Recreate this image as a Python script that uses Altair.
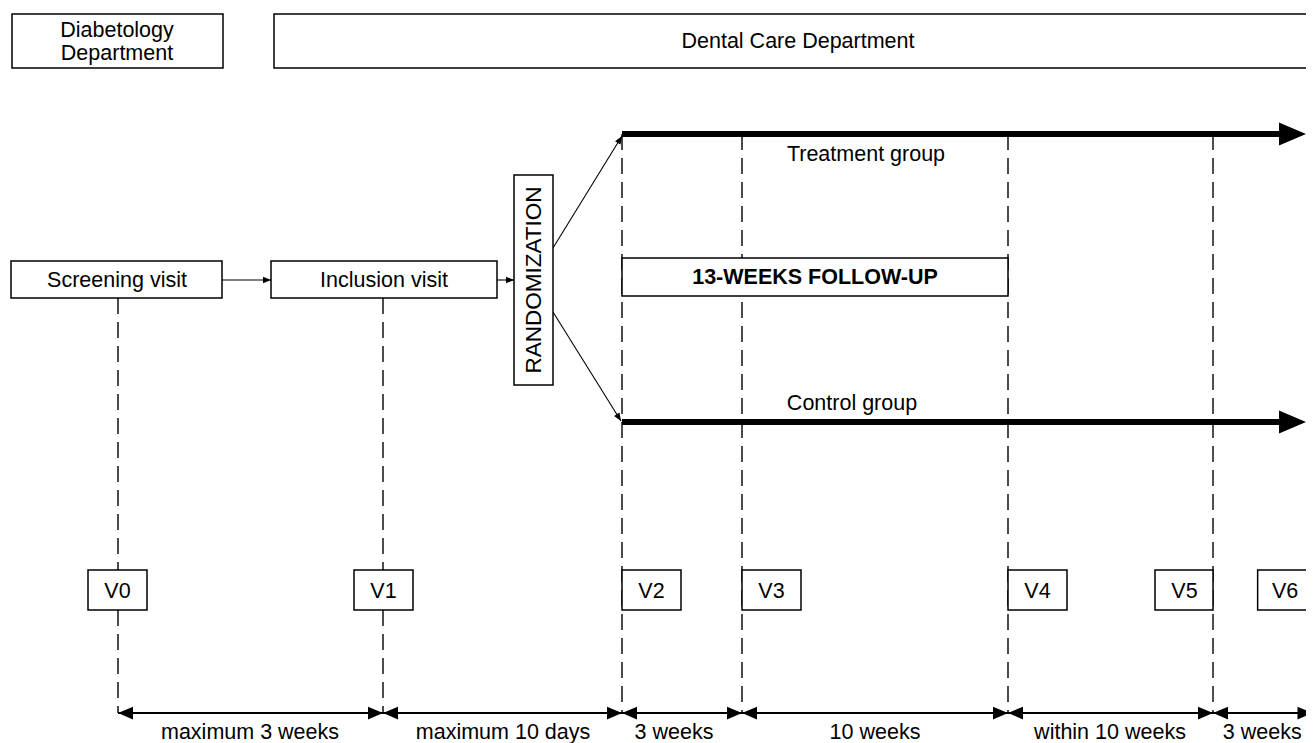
import math
import altair as alt
import pandas as pd

FONT = "Liberation Sans"

# ---------------- content ----------------
visits = ["V0", "V1", "V2", "V3", "V4", "V5", "V6"]
visit_x = [118, 383, 622, 742, 1008, 1214, 1321]          # timeline position of each visit
visit_line_top = [298, 298, 134, 134, 134, 134, 134]
visit_box_left = [88, 354, 622, 742, 1008, 1155, 1262]

interval_labels = ["maximum 3 weeks", "maximum 10 days", "3 weeks",
                   "10 weeks", "within 10 weeks", "3 weeks"]
interval_label_x = [250, 503, 674, 875, 1110, 1267]

box_names = ["Diabetology", "Dental", "Screening", "Inclusion", "Randomization", "FollowUp"]
box_x1 = [12, 274, 11, 271, 514, 622]
box_x2 = [223, 1340, 222, 497, 553, 1008]
box_y1 = [14, 14, 261, 261, 175, 258]
box_y2 = [68, 68, 298, 298, 385, 296]

text_labels = ["Diabetology", "Department", "Dental Care Department",
               "Screening visit", "Inclusion visit", "Treatment group", "Control group"]
text_x = [117, 117, 798, 117, 384, 866, 852]
text_y = [37, 60, 48, 287, 287, 161, 410]

group_names = ["Treatment group", "Control group"]
group_y = [134, 422]
group_x_start = 622
group_x_tip = 1314

# thin arrows: (x1, y1) -> (x2, y2), head at (x2, y2)
thin_x1 = [222, 497, 553, 553]
thin_y1 = [280, 280, 248, 312]
thin_x2 = [271, 514, 622, 621]
thin_y2 = [280, 280, 136, 421]

timeline_y = 713
box_h_top, box_h_bottom = 570, 610
box_w = 59

# ---------------- scales ----------------
W, H = 1298, 735
# exact mapping on most of the width, gentle squeeze of the last strip so the
# right edge of the figure stays inside the page
xs = alt.Scale(domain=[8, 1200, 1314], range=[0, 1192, 1298], nice=False, zero=False)
ys = alt.Scale(domain=[8, 743], nice=False, zero=False, reverse=True)


def X(f):
    return alt.X(f, type="quantitative", scale=xs, axis=None)


def Y(f):
    return alt.Y(f, type="quantitative", scale=ys, axis=None)


# ---------------- tables ----------------
dash_df = pd.DataFrame({"x": visit_x, "y1": visit_line_top, "y2": [timeline_y] * len(visits)})

boxes_df = pd.DataFrame({"name": box_names, "x1": box_x1, "x2": box_x2, "y1": box_y1, "y2": box_y2})
vbox_df = pd.DataFrame({
    "name": visits,
    "x1": visit_box_left,
    "x2": [v + box_w for v in visit_box_left],
    "y1": [box_h_top] * len(visits),
    "y2": [box_h_bottom] * len(visits),
})
all_boxes = pd.concat([boxes_df, vbox_df], ignore_index=True)

thick_df = pd.DataFrame({"name": group_names, "x1": [group_x_start] * 2,
                         "x2": [group_x_tip - 20] * 2, "y": group_y})
thick_head = pd.DataFrame({"x": [group_x_tip] * 2, "y": group_y, "ang": [0, 0]})

thin_df = pd.DataFrame({"x1": thin_x1, "y1": thin_y1, "x2": thin_x2, "y2": thin_y2})
thin_head = pd.DataFrame({
    "x": thin_x2, "y": thin_y2,
    "ang": [(math.degrees(math.atan2(b2 - b1, a2 - a1)) + 360) % 360
            for a1, b1, a2, b2 in zip(thin_x1, thin_y1, thin_x2, thin_y2)],
})

seg_df = pd.DataFrame({"x1": visit_x[:-1], "x2": visit_x[1:], "y": [timeline_y] * (len(visits) - 1)})
seg_heads = pd.DataFrame({
    "x": visit_x[:-1] + visit_x[1:],
    "y": [timeline_y] * (2 * (len(visits) - 1)),
    "ang": [180] * (len(visits) - 1) + [0] * (len(visits) - 1),
})

text_df = pd.DataFrame({"t": text_labels, "x": text_x, "y": text_y})
vtext_df = pd.DataFrame({"t": visits, "x": [v + box_w / 2 for v in visit_box_left], "y": [598] * len(visits)})
itext_df = pd.DataFrame({"t": interval_labels, "x": interval_label_x, "y": [739] * len(interval_labels)})
plain_text = pd.concat([text_df, vtext_df, itext_df], ignore_index=True)

bold_df = pd.DataFrame({"t": ["13-WEEKS FOLLOW-UP"], "x": [815], "y": [284]})
rot_df = pd.DataFrame({"t": ["RANDOMIZATION"], "x": [534], "y": [280]})

HEAD = "M0,0L-2,-0.85L-2,0.85Z"
SMALL_HEAD = "M0,0L-2,-0.8L-2,0.8Z"

# ---------------- layers ----------------
dashed = alt.Chart(dash_df).mark_rule(color="black", strokeWidth=1.4, strokeDash=[16, 8]).encode(
    x=X("x"), y=Y("y1"), y2="y2")

thick = alt.Chart(thick_df).mark_rule(color="black", strokeWidth=6).encode(
    x=X("x1"), x2="x2", y=Y("y"))
thick_h = alt.Chart(thick_head).mark_point(shape=HEAD, filled=True, size=729, color="black",
                                           opacity=1, strokeWidth=0).encode(
    x=X("x"), y=Y("y"), angle=alt.Angle("ang:Q", scale=None))

thin = alt.Chart(thin_df).mark_rule(color="black", strokeWidth=1.1).encode(
    x=X("x1"), x2="x2", y=Y("y1"), y2="y2")
thin_h = alt.Chart(thin_head).mark_point(shape=SMALL_HEAD, filled=True, size=64, color="black",
                                         opacity=1, strokeWidth=0).encode(
    x=X("x"), y=Y("y"), angle=alt.Angle("ang:Q", scale=None))

segs = alt.Chart(seg_df).mark_rule(color="black", strokeWidth=2).encode(
    x=X("x1"), x2="x2", y=Y("y"))
seg_h = alt.Chart(seg_heads).mark_point(shape=HEAD, filled=True, size=225, color="black",
                                        opacity=1, strokeWidth=0).encode(
    x=X("x"), y=Y("y"), angle=alt.Angle("ang:Q", scale=None))

rects = alt.Chart(all_boxes).mark_rect(fill="white", stroke="black", strokeWidth=1.5).encode(
    x=X("x1"), x2="x2", y=Y("y1"), y2="y2")

texts = alt.Chart(plain_text).mark_text(font=FONT, fontSize=21.5, color="black",
                                        align="center", baseline="alphabetic").encode(
    x=X("x"), y=Y("y"), text="t:N")
bold = alt.Chart(bold_df).mark_text(font=FONT, fontSize=21.5, fontWeight="bold", color="black",
                                    align="center", baseline="alphabetic").encode(
    x=X("x"), y=Y("y"), text="t:N")
rot = alt.Chart(rot_df).mark_text(font=FONT, fontSize=22.5, color="black", angle=270,
                                  align="center", baseline="middle").encode(
    x=X("x"), y=Y("y"), text="t:N")

chart = alt.layer(dashed, thick, thin, segs, rects, thick_h, thin_h, seg_h, texts, bold, rot).properties(
    width=W, height=H, padding=0, autosize=alt.AutoSizeParams(type="none"),
    background="white",
).configure_view(stroke=None)

chart.save("out.html", embed_options={"renderer": "svg", "actions": False})
